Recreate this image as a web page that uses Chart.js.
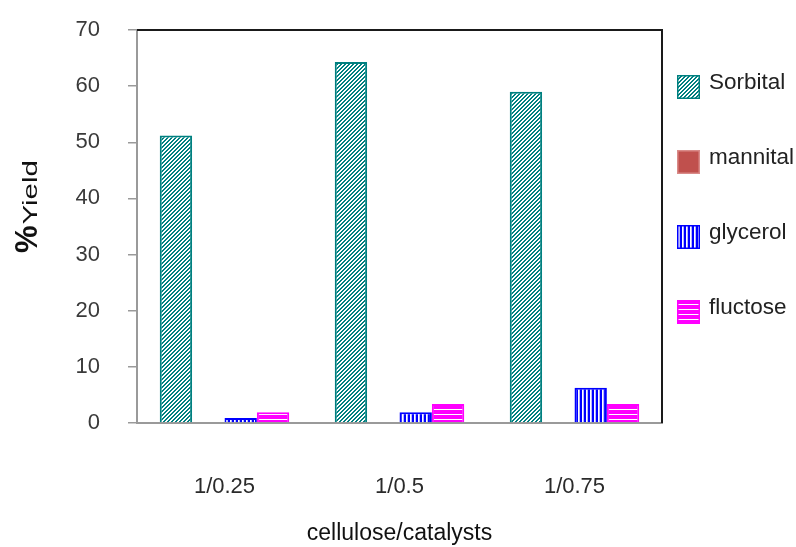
<!DOCTYPE html>
<html>
<head>
<meta charset="utf-8">
<script src="https://cdn.jsdelivr.net/npm/chart.js@4/dist/chart.umd.min.js"></script>
<style>
  html, body { margin: 0; padding: 0; background: #ffffff; }
  #wrap { width: 796px; height: 547px; }
</style>
</head>
<body>
<div id="wrap"><canvas id="c" width="796" height="547"></canvas></div>
<script>
// Product yields (%) for each cellulose/catalyst ratio
const categories = ['1/0.25', '1/0.5', '1/0.75'];
const sorbital = [51.2, 64.3, 59.0];
const mannital = [0, 0, 0];
const glycerol = [0.9, 1.9, 6.3];
const fluctose = [1.9, 3.4, 3.4];
const seriesNames = ['Sorbital', 'mannital', 'glycerol', 'fluctose'];
const yMin = 0, yMax = 70, yStep = 10;

const FONT = "'Liberation Sans', Arial, sans-serif";
Chart.defaults.font.family = FONT;

const canvas = document.getElementById('c');
const ctx = canvas.getContext('2d');

// Small repeating tiles used as hatch fills
function makePattern(w, h, paint) {
  const t = document.createElement('canvas');
  t.width = w; t.height = h;
  paint(t.getContext('2d'), w, h);
  return ctx.createPattern(t, 'repeat');
}
const tealHatch = makePattern(4, 4, (g) => {
  g.fillStyle = '#ffffff'; g.fillRect(0, 0, 4, 4);
  g.fillStyle = '#008080';
  for (let y = 0; y < 4; y++) for (let x = 0; x < 4; x++) if ((x + y) % 4 < 2) g.fillRect(x, y, 1, 1);
});
const blueVertical = makePattern(4, 1, (g) => {
  const cols = ['#0000ff', '#0000ff', '#ffffff', '#b8b8ff'];
  cols.forEach((c, x) => { g.fillStyle = c; g.fillRect(x, 0, 1, 1); });
});
const magentaHorizontal = makePattern(1, 5, (g) => {
  g.fillStyle = '#ff00ff'; g.fillRect(0, 0, 1, 5);
  g.fillStyle = '#ffffff'; g.fillRect(0, 4, 1, 1);
});

// Black frame on the top and right of the plot area
const framePlugin = {
  id: 'frame',
  afterDraw(chart) {
    const a = chart.chartArea, c = chart.ctx;
    c.save();
    c.strokeStyle = '#1a1a1a';
    c.lineWidth = 2;
    c.beginPath();
    c.moveTo(a.left, a.top);
    c.lineTo(a.right, a.top);
    c.lineTo(a.right, a.bottom);
    c.stroke();
    c.restore();
  }
};

// Legend column at the right
const legendPlugin = {
  id: 'sideLegend',
  afterDraw(chart) {
    const c = chart.ctx;
    c.save();
    chart.data.datasets.forEach((ds, i) => {
      const cy = 87 + i * 75;
      const x = 677, w = 23, h = 24;
      c.fillStyle = ds.backgroundColor;
      c.fillRect(x, cy - h / 2, w, h);
      c.strokeStyle = ds.legendBorder;
      c.lineWidth = 1.5;
      c.strokeRect(x + 0.75, cy - h / 2 + 0.75, w - 1.5, h - 1.5);
      c.fillStyle = '#222222';
      c.font = '22.5px ' + FONT;
      c.textAlign = 'left';
      c.textBaseline = 'middle';
      c.fillText(ds.label, 709, cy - 4);
    });
    c.restore();
  }
};

// Vertical axis title: bold "%" followed by a widened "Yield"
const yTitlePlugin = {
  id: 'yTitle',
  afterDraw(chart) {
    const c = chart.ctx;
    c.save();
    c.translate(37, 253);
    c.rotate(-Math.PI / 2);
    c.fillStyle = '#111111';
    c.textAlign = 'left';
    c.textBaseline = 'alphabetic';
    c.font = 'bold 31px ' + FONT;
    c.fillText('%', 0, 0);
    const pw = c.measureText('%').width;
    c.translate(pw + 1, 0);
    c.scale(1.4, 1);
    c.font = '21px ' + FONT;
    c.fillText('Yield', 0, 0);
    c.restore();
  }
};

new Chart(ctx, {
  type: 'bar',
  data: {
    labels: categories,
    datasets: [
      { label: seriesNames[0], data: sorbital, backgroundColor: tealHatch, borderColor: '#008080', legendBorder: '#008080', borderWidth: 2 },
      { label: seriesNames[1], data: mannital, backgroundColor: '#C0504D', borderColor: '#C0504D', legendBorder: '#d98a88', borderWidth: 0 },
      { label: seriesNames[2], data: glycerol, backgroundColor: blueVertical, borderColor: '#0000ff', legendBorder: '#0000ff', borderWidth: 2 },
      { label: seriesNames[3], data: fluctose, backgroundColor: magentaHorizontal, borderColor: '#ff00ff', legendBorder: '#ff00ff', borderWidth: 2 }
    ]
  },
  options: {
    responsive: false,
    animation: false,
    devicePixelRatio: 1,
    datasets: { bar: { categoryPercentage: 0.74, barPercentage: 1.0 } },
    layout: { padding: { top: 30, right: 134, left: 0, bottom: 0 } },
    plugins: { legend: { display: false }, tooltip: { enabled: false } },
    scales: {
      x: {
        grid: { display: false, drawTicks: false },
        border: { display: true, color: '#9a9a9a', width: 2 },
        ticks: { padding: 51, color: '#2a2a2a', font: { size: 22 } },
        title: { display: true, text: 'cellulose/catalysts', color: '#111111', font: { size: 23 }, padding: { top: 0, bottom: 0 } },
        afterFit(s) { s.height = 124; }
      },
      y: {
        min: yMin, max: yMax,
        ticks: { stepSize: yStep, padding: 28, color: '#3a3a3a', font: { size: 22 } },
        grid: { drawOnChartArea: false, drawTicks: true, tickLength: 9, color: '#9a9a9a', lineWidth: 1.5 },
        border: { display: true, color: '#9a9a9a', width: 2 },
        afterFit(s) { s.width = 137; s.paddingTop = 0; s.paddingBottom = 0; }
      }
    }
  },
  plugins: [framePlugin, legendPlugin, yTitlePlugin]
});
</script>
</body>
</html>
